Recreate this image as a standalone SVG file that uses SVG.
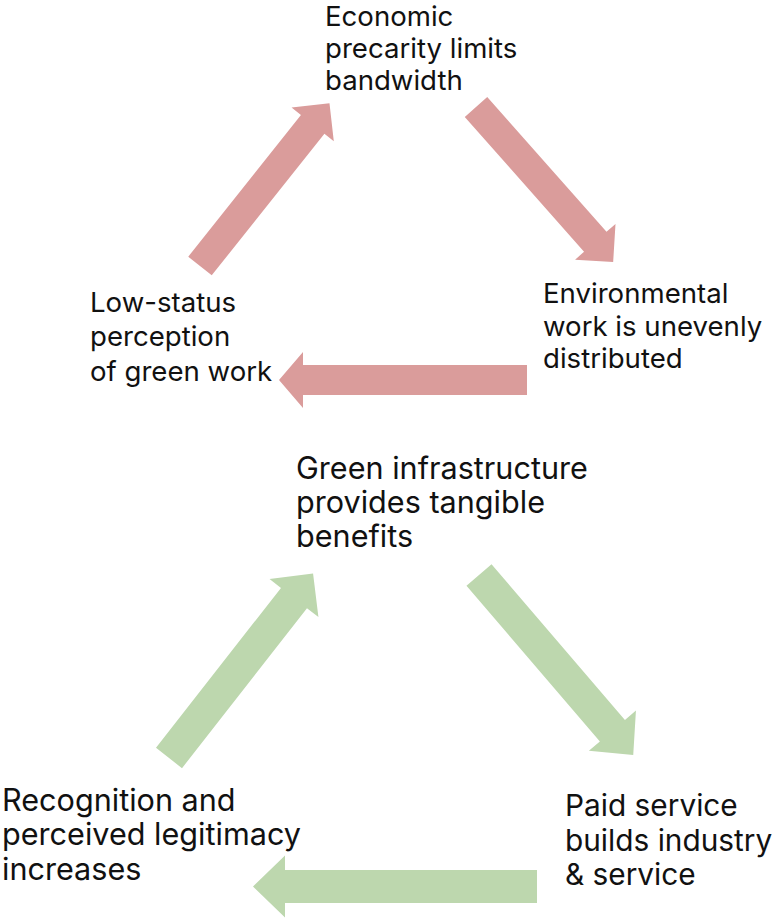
<svg xmlns="http://www.w3.org/2000/svg" width="772" height="923" viewBox="0 0 772 923">
<style>
  .lbl { font-family: Inter, "Liberation Sans", Arial, sans-serif; fill: #111111; }
  .top { font-size: 27.6px; }
  .bot { font-size: 30.6px; }
  .paid { font-size: 29.8px; }
  .red { fill: #da9c9b; }
  .green { fill: #bdd7ae; }
</style>
<rect width="772" height="923" fill="#ffffff"/>
<g id="connectors">
  <polygon class="red" transform="translate(200,266) rotate(-51.5)" points="0,-15 181,-15 181,-27 208,0 181,27 181,15 0,15"/>
  <polygon class="red" transform="translate(476,107) rotate(48.5)" points="0,-15 180,-15 180,-27 207,0 180,27 180,15 0,15"/>
  <polygon class="red" transform="translate(527,380) rotate(180)" points="0,-15 224,-15 224,-28 248,0 224,28 224,15 0,15"/>
  <polygon class="green" transform="translate(169,758) rotate(-52)" points="0,-16.5 203,-16.5 203,-31 234,0 203,31 203,16.5 0,16.5"/>
  <polygon class="green" transform="translate(479,575) rotate(49.4)" points="0,-16.5 205,-16.5 205,-31 237,0 205,31 205,16.5 0,16.5"/>
  <polygon class="green" transform="translate(537,886.5) rotate(180)" points="0,-16.5 252,-16.5 252,-31 284,0 252,31 252,16.5 0,16.5"/>
</g>
<g id="node-economic">
  <text class="lbl top" x="325" y="26">Economic</text>
  <text class="lbl top" x="325" y="58">precarity limits</text>
  <text class="lbl top" x="325" y="90">bandwidth</text>
</g>
<g id="node-environmental">
  <text class="lbl top" x="543" y="303">Environmental</text>
  <text class="lbl top" x="543" y="336">work is unevenly</text>
  <text class="lbl top" x="543" y="368">distributed</text>
</g>
<g id="node-lowstatus">
  <text class="lbl top" x="90" y="312">Low-status</text>
  <text class="lbl top" x="90" y="346">perception</text>
  <text class="lbl top" x="90" y="381">of green work</text>
</g>
<g id="node-green-infra">
  <text class="lbl bot" x="296" y="479">Green infrastructure</text>
  <text class="lbl bot" x="296" y="513">provides tangible</text>
  <text class="lbl bot" x="296" y="547">benefits</text>
</g>
<g id="node-paid-service">
  <text class="lbl paid" x="565" y="816">Paid service</text>
  <text class="lbl paid" x="565" y="851">builds industry</text>
  <text class="lbl paid" x="565" y="885">&amp; service</text>
</g>
<g id="node-recognition">
  <text class="lbl bot" x="2" y="811">Recognition and</text>
  <text class="lbl bot" x="2" y="845">perceived legitimacy</text>
  <text class="lbl bot" x="2" y="880">increases</text>
</g>
</svg>
